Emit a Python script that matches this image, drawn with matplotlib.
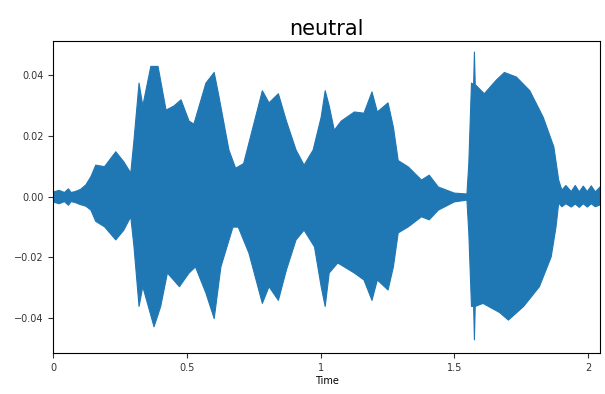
import numpy as np
import matplotlib
matplotlib.use("Agg")
import matplotlib.pyplot as plt

# upper envelope of the waveform (time in s, amplitude)
t_upper = [0.0, 0.02, 0.04, 0.055, 0.065, 0.08, 0.10, 0.12, 0.139, 0.157, 0.19,
           0.232, 0.262, 0.288, 0.30, 0.319, 0.333, 0.363, 0.39, 0.42, 0.45,
           0.476, 0.506, 0.524, 0.569, 0.60, 0.618, 0.655, 0.68, 0.71, 0.745,
           0.78, 0.805, 0.84, 0.87, 0.906, 0.936, 0.97, 1.0, 1.015, 1.03, 1.049,
           1.075, 1.124, 1.16, 1.19, 1.21, 1.25, 1.27, 1.288, 1.326, 1.375,
           1.404, 1.438, 1.498, 1.545, 1.552, 1.562, 1.570, 1.573, 1.576, 1.61,
           1.655, 1.685, 1.73, 1.78, 1.83, 1.87, 1.888, 1.90, 1.915, 1.935,
           1.95, 1.965, 1.98, 1.995, 2.01, 2.025, 2.045]
upper = [0.0017, 0.0022, 0.0015, 0.0027, 0.0015, 0.0018, 0.0025, 0.004, 0.0067,
         0.0105, 0.010, 0.0149, 0.0116, 0.0079, 0.0187, 0.0375, 0.030, 0.043,
         0.043, 0.0286, 0.030, 0.032, 0.025, 0.024, 0.0375, 0.041, 0.033,
         0.0155, 0.0095, 0.011, 0.023, 0.035, 0.031, 0.034, 0.025, 0.0155,
         0.0105, 0.0155, 0.0263, 0.035, 0.030, 0.022, 0.025, 0.028, 0.0276,
         0.0346, 0.028, 0.031, 0.023, 0.012, 0.0099, 0.0056, 0.0072, 0.0033,
         0.0013, 0.001, 0.011, 0.0375, 0.037, 0.0477, 0.037, 0.034, 0.0385,
         0.041, 0.0395, 0.035, 0.0263, 0.0165, 0.0056, 0.0023, 0.0038, 0.0018,
         0.0038, 0.0017, 0.0036, 0.0018, 0.0037, 0.0017, 0.0035]

# lower envelope of the waveform
t_lower = [0.0, 0.02, 0.04, 0.055, 0.065, 0.08, 0.10, 0.12, 0.139, 0.157, 0.19,
           0.232, 0.262, 0.288, 0.30, 0.319, 0.333, 0.375, 0.40, 0.425, 0.47,
           0.506, 0.53, 0.569, 0.60, 0.625, 0.67, 0.69, 0.73, 0.78, 0.805,
           0.84, 0.87, 0.906, 0.936, 0.975, 1.0, 1.015, 1.03, 1.062, 1.124,
           1.16, 1.19, 1.21, 1.25, 1.27, 1.288, 1.326, 1.375, 1.404, 1.438,
           1.498, 1.545, 1.552, 1.562, 1.570, 1.573, 1.576, 1.605, 1.667, 1.70,
           1.757, 1.816, 1.86, 1.878, 1.888, 1.90, 1.915, 1.935, 1.95, 1.965,
           1.98, 1.995, 2.01, 2.025, 2.045]
lower = [-0.0017, -0.0022, -0.0015, -0.0027, -0.0015, -0.0018, -0.0025, -0.003,
         -0.0043, -0.008, -0.0098, -0.0141, -0.0109, -0.0065, -0.0163, -0.036,
         -0.0295, -0.0427, -0.036, -0.025, -0.0295, -0.025, -0.023, -0.0316,
         -0.040, -0.023, -0.0099, -0.0099, -0.0185, -0.035, -0.0295, -0.034,
         -0.024, -0.0141, -0.0109, -0.0164, -0.0295, -0.036, -0.025, -0.0217,
         -0.025, -0.0273, -0.034, -0.0273, -0.0306, -0.023, -0.0118, -0.0098,
         -0.0065, -0.0075, -0.0043, -0.0016, -0.001, -0.0118, -0.036, -0.036,
         -0.047, -0.036, -0.035, -0.038, -0.0405, -0.036, -0.0295, -0.0197,
         -0.0099, -0.002, -0.0032, -0.0022, -0.0033, -0.0023, -0.0034, -0.0022,
         -0.0033, -0.0022, -0.0032, -0.0025]

duration = 2.045

fig, ax = plt.subplots(figsize=(6.05, 3.94), dpi=100)

grid_t = np.union1d(t_upper, t_lower)
ax.fill_between(grid_t,
                np.interp(grid_t, t_lower, lower),
                np.interp(grid_t, t_upper, upper),
                color="#1f77b4", linewidth=0.8, edgecolor="#1f77b4")

ax.set_xlim(0, duration)
ax.set_ylim(-0.0515, 0.0512)
ax.set_xticks([0, 0.5, 1, 1.5, 2])
ax.set_xticklabels(["0", "0.5", "1", "1.5", "2"])
ax.set_yticks([-0.04, -0.02, 0.0, 0.02, 0.04])
ax.tick_params(labelsize=7, colors="#333333")
ax.set_xlabel("Time", fontsize=7, labelpad=2)
ax.set_title("neutral", fontsize=15, pad=4)

plt.subplots_adjust(left=0.088, right=0.992, top=0.896, bottom=0.104)
plt.savefig("out.png")
